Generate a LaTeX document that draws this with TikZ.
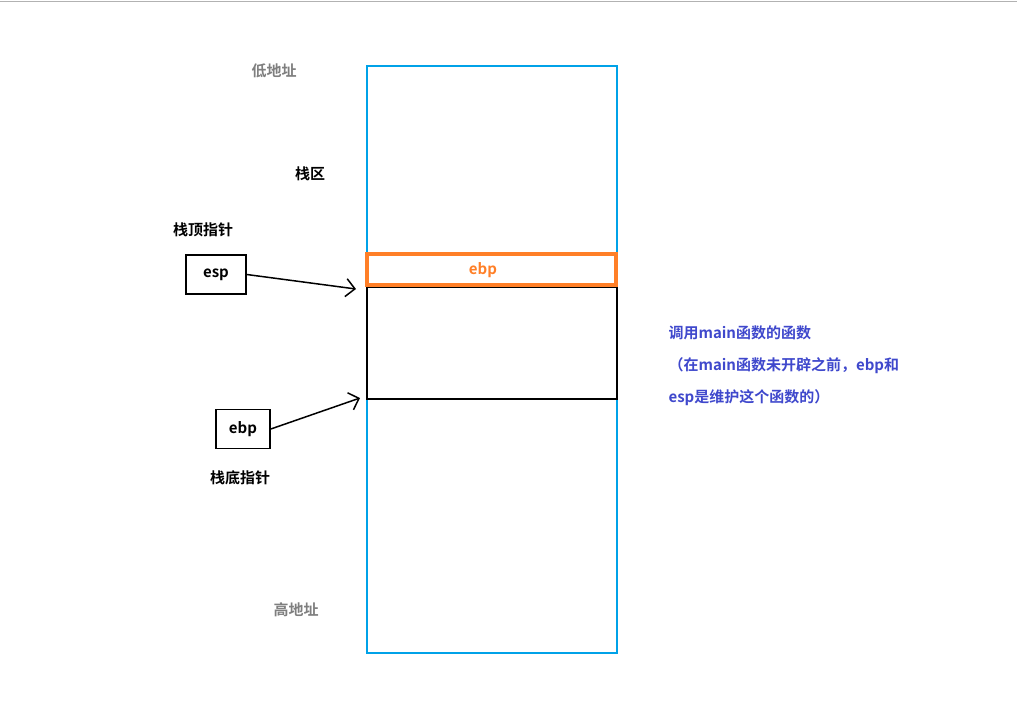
\documentclass[tikz,border=0pt]{standalone}
\usepackage{fontspec}
\setmainfont{Noto Sans CJK SC}[BoldFont={Noto Sans CJK SC Bold}]
\definecolor{stackblue}{RGB}{0,162,232}
\definecolor{frameorange}{RGB}{255,127,39}
\definecolor{notepurple}{RGB}{63,72,204}
\definecolor{addrgray}{RGB}{127,127,127}
\tikzset{
  lbl/.style={font=\fontsize{15}{18}\selectfont\bfseries},
  regbox/.style={lbl, draw, line width=1.6pt, minimum height=39pt, inner sep=0pt},
  ptr/.style={-{Straight Barb[length=9pt,width=18pt]}, line width=1.5pt}
}
\usetikzlibrary{arrows.meta}
\begin{document}
\begin{tikzpicture}[x=1pt,y=-1pt]
    \useasboundingbox (0,0) rectangle (1017,702);
    \draw[gray!60, line width=1pt] (0,1) -- (1017,1);
    \draw[stackblue, line width=2.5pt] (367,66) rectangle (617,653);
    \draw[line width=2pt] (367,287) rectangle (617,399);
    \draw[frameorange, line width=4pt] (367,254) rectangle (616,285);
    \node[lbl, text=frameorange] (frame) at (483,270) {ebp};
    \node[lbl, text=addrgray] (low) at (274,71) {低地址};
    \node[lbl, text=addrgray] (high) at (296,610) {高地址};
    \node[lbl] (area) at (310,174) {栈区};
    \node[lbl] (toplbl) at (203,230) {栈顶指针};
    \node[lbl] (botlbl) at (240,478) {栈底指针};
    \node[regbox, minimum width=60pt] (esp) at (216,274.5) {esp};
    \node[regbox, minimum width=54pt] (ebp) at (243,429) {ebp};
    \coordinate (esptip) at (356,289);
    \coordinate (ebptip) at (360,398);
    \draw[ptr] (esp.east) -- (esptip);
    \draw[ptr] (ebp.east) -- (ebptip);
    % note on the calling function
    \node[lbl, text=notepurple, anchor=west] (note1) at (665,333) {调用main函数的函数};
    \node[lbl, text=notepurple, anchor=west] (note2) at (665,366) {（在main函数未开辟之前，ebp和};
    \node[lbl, text=notepurple, anchor=west] (note3) at (665,398) {esp是维护这个函数的）};
\end{tikzpicture}
\end{document}
